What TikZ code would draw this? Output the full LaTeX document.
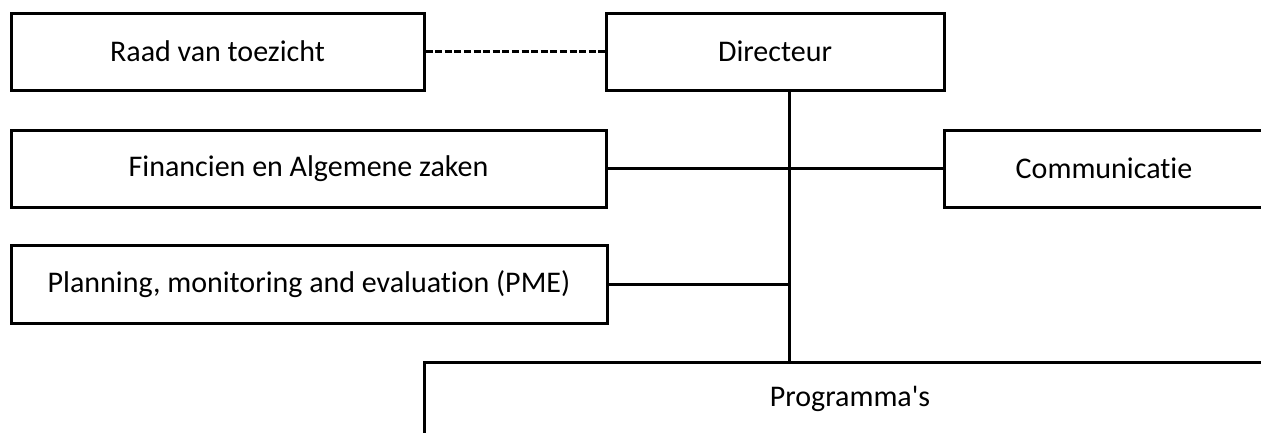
\documentclass[tikz,border=0pt]{standalone}
\usepackage{fontspec}
\newfontfamily\orgfont{Carlito}[Ligatures={NoCommon}]
\begin{document}
\begin{tikzpicture}[x=1pt,y=-1pt,
  orgbox/.style={draw, line width=3pt, inner sep=0pt, font=\orgfont\fontsize{30}{34}\selectfont, minimum height=77pt},
  link/.style={line width=3pt},
  dashlink/.style={line width=3pt, dash pattern=on 7pt off 2.6pt}]
\useasboundingbox (0,0) rectangle (1261,432);
\clip (0,0) rectangle (1261,432);
\node[orgbox, minimum width=413pt] (raad) at (217.5,51.5) {Raad van toezicht};
\node[orgbox, minimum width=338pt] (dir) at (775,51.5) {Directeur};
\node[orgbox, minimum width=595pt] (fin) at (308.5,168.5) {Financien en Algemene zaken};
\node[orgbox, minimum width=320pt] (com) at (1104,168.5) {Communicatie};
\node[orgbox, minimum width=596pt, minimum height=78pt] (pme) at (309,284) {Planning, monitoring and evaluation (PME)};
\node[orgbox, minimum width=852pt, minimum height=74pt] (prog) at (850,399) {Programma's};
\coordinate (vx) at (789,0);
\draw[dashlink] (raad.east) -- (dir.west);
\draw[link] (dir.south -| vx) -- (prog.north -| vx);
\draw[link] (fin.east) -- (com.west);
\draw[link] (pme.east) -- (pme.east -| vx);
\end{tikzpicture}
\end{document}
